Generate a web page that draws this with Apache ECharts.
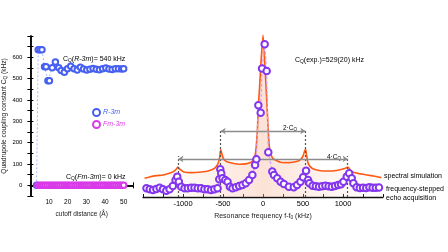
<!DOCTYPE html>
<html><head><meta charset="utf-8">
<script src="https://cdn.jsdelivr.net/npm/echarts@6/dist/echarts.min.js"></script>
<style>html,body{margin:0;padding:0;background:#fff}#c{width:448px;height:252px}</style>
</head><body><div id="c"></div>
<script>
// ---- Left panel: quadrupole coupling constant vs cutoff distance ----
const cutoffR = [3.3, 4.2, 5.2, 6.2, 7.6, 8.4, 9.4, 10.2, 11.7, 13.4, 15.2, 16.5, 18.2, 19.9, 21.6, 23.4, 25.1, 26.8, 28.5, 30.2, 31.9, 33.6, 35.3, 37.0, 38.7, 40.4, 42.1, 43.8, 45.5, 47.2, 48.9, 50.0];
const cqR = [0, 636, 636, 636, 556, 556, 490, 490, 551, 578, 551, 538, 530, 546, 558, 546, 541, 553, 545, 541, 544, 548, 544, 542, 546, 550, 545, 543, 546, 547, 545, 546];
const cutoffF = [4, 5, 6, 7, 8, 9, 10, 11, 12, 13, 14, 15, 16, 17, 18, 19, 20, 21, 22, 23, 24, 25, 26, 27, 28, 29, 30, 31, 32, 33, 34, 35, 36, 37, 38, 39, 40, 41, 42, 43, 44, 45, 46, 47, 48, 49, 50];
const cqF = [0, 0, 0, 0, 0, 0, 0, 0, 0, 0, 0, 0, 0, 0, 0, 0, 0, 0, 0, 0, 0, 0, 0, 0, 0, 0, 0, 0, 0, 0, 0, 0, 0, 0, 0, 0, 0, 0, 0, 0, 0, 0, 0, 0, 0, 0, 0];
const leftXTicks = [10, 20, 30, 40, 50];
const leftYTicks = [0, 100, 200, 300, 400, 500, 600];

// ---- Right panel: spectrum ----
const simFreq = [-1480,-1420,-1330,-1250,-1170,-1120,-1085,-1065,-1050,-1030,-990,-900,-800,-700,-620,-580,-555,-540,-528,-515,-500,-470,-420,-300,-200,-150,-120,-100,-85,-70,-58,-45,-29,-15,0,12,25,40,53,65,80,100,130,220,320,420,470,500,520,533,545,560,590,650,750,850,950,1020,1055,1075,1095,1130,1200,1300,1400,1480];
const simInt = [11.2,12.0,12.8,13.2,14.2,15.2,16.6,18.0,17.2,16.2,15.0,14.6,14.8,15.4,16.8,18.6,21.0,24.5,28.4,26.0,23.6,21.6,20.6,19.6,20.0,20.8,22.2,24.5,30,40,55,64,78,88,97,89,78,64,52,40,30,25.5,22.8,20.8,20.6,21.2,22.5,24.5,27.5,28.7,25,20.8,18.2,16.4,15.6,15.6,16.2,17,17.8,17.4,15.8,14.8,14.0,13.2,12.4,11.6];
const echoFreq = [-1457,-1416,-1375,-1333,-1292,-1251,-1209,-1168,-1127,-1093,-1072,-1052,-1022,-981,-940,-898,-857,-816,-774,-733,-692,-650,-609,-568,-547,-534,-522,-506,-472,-443,-414,-381,-339,-298,-257,-215,-174,-133,-99,-83,-58,-29,-12,21,46,66,116,137,178,220,261,323,385,426,468,501,538,563,580,620,660,700,740,780,820,860,900,940,975,1006,1047,1077,1109,1130,1170,1210,1250,1290,1330,1370,1410,1450];
const echoInt = [5.2,4.6,4.2,4.8,5.6,4.6,3.8,4.6,6.6,10.2,12.2,9.2,6.2,5.2,5.2,5.6,5.6,5.2,5.2,4.6,4.6,4.2,4.6,5.2,10.6,16.6,14.2,11.2,10.2,9.2,6.2,5.2,5.8,6.6,7.2,8.2,10.2,13.2,19.2,22.6,55,50.5,77,91.5,75.5,26.8,15.2,13.2,11.2,9.2,7.8,6.2,5.8,7.2,9.2,11.8,15.7,10.2,8.2,6.8,6.5,6.2,6.4,6.8,6.5,6.2,6.6,7.2,7.6,9.2,12.2,14.2,11.2,8.2,5.8,5.4,5.6,5.4,5.8,5.5,5.6,5.7];
const rightXTicks = [-1000, -500, 0, 500, 1000];
const singularities = [-1058, -529, 529, 1058];
const singTop = [24.5, 40.5, 40.5, 24.5];
const arrowSpans = [[-529, 529, 39.5], [-1058, 1058, 22.8]];

const FONT = 'Liberation Sans, Arial, sans-serif';
const BLUE = '#4760f0', MAG = '#d93ae8', ORANGE = '#ff5a14', PURPLE = '#8436ee';

const zip = (a, b) => a.map((v, i) => [v, b[i]]);
const chart = echarts.init(document.getElementById('c'), null, {renderer: 'canvas'});

const subRich = (size, color) => ({
  n: {fontSize: size, color: color, fontFamily: FONT},
  s: {fontSize: size * 0.7, color: color, fontFamily: FONT, padding: [size * 0.45, 0, 0, 0]},
  i: {fontSize: size, color: color, fontFamily: FONT, fontStyle: 'italic'}
});

const leftTickAxis = {
  type: 'value', gridIndex: 0, splitLine: {show: false},
  axisLine: {show: true, lineStyle: {color: '#000', width: 1.5}},
  axisTick: {show: true, inside: true, length: 3, lineStyle: {color: '#000', width: 1}},
  minorTick: {show: true, splitNumber: 2, length: 2, lineStyle: {color: '#000', width: 1}}
};

const markData = [];
singularities.forEach((f, i) => {
  markData.push([{coord: [f, 0], symbol: 'none', lineStyle: {color: '#555', type: [2, 2], width: 1.2}}, {coord: [f, singTop[i]], symbol: 'none'}]);
});
arrowSpans.forEach(s => {
  markData.push([{coord: [s[0], s[2]], symbol: 'arrow', lineStyle: {color: '#8c8c8c', type: 'solid', width: 1.3}}, {coord: [s[1], s[2]], symbol: 'arrow'}]);
});

const txt = (x, y, rich, text, align) => ({
  type: 'text', left: x, top: y, silent: true,
  style: {text: text, rich: rich, font: '7px ' + FONT, align: align || 'left', verticalAlign: 'middle'}
});

chart.setOption({
  animation: false,
  textStyle: {fontFamily: FONT},
  grid: [
    {left: 26, top: 36, width: 107, height: 160},
    {left: 143, top: 30, width: 240, height: 167}
  ],
  legend: {
    left: 92, top: 108, orient: 'vertical', padding: 0, itemWidth: 7, itemHeight: 7, itemGap: 3,
    icon: 'emptyCircle',
    textStyle: {fontSize: 7, fontStyle: 'italic', fontFamily: FONT, padding: [0, 0, 0, -2]},
    data: [{name: 'R-3m', textStyle: {color: BLUE}}, {name: 'Fm-3m', textStyle: {color: MAG}}]
  },
  xAxis: [
    Object.assign({}, leftTickAxis, {
      position: 'bottom', min: 0, max: 55, interval: 10,
      axisLabel: {fontSize: 6.5, color: '#000', margin: 3, fontFamily: FONT,
        formatter: v => leftXTicks.includes(v) ? String(v) : ''},
      name: 'cutoff distance (Å)', nameLocation: 'middle', nameGap: 10,
      nameTextStyle: {fontSize: 6.5, color: '#222', fontFamily: FONT}
    }),
    Object.assign({}, leftTickAxis, {
      position: 'top', min: 0, max: 55, interval: 10, axisLabel: {show: false}
    }),
    {
      type: 'value', gridIndex: 1, min: -1500, max: 1500, interval: 250, splitLine: {show: false},
      axisLine: {show: true, lineStyle: {color: '#111', width: 1.3}},
      axisTick: {show: true, inside: true, length: 3, lineStyle: {color: '#111', width: 1}},
      axisLabel: {fontSize: 7.5, color: '#000', margin: 3, fontFamily: FONT,
        formatter: v => rightXTicks.includes(v) ? String(v) : ''},
      name: '{n|Resonance frequency f-f}{s|0}{n| (kHz)}', nameLocation: 'middle', nameGap: 13,
      nameTextStyle: {rich: subRich(7, '#222')}
    }
  ],
  yAxis: [
    Object.assign({}, leftTickAxis, {
      position: 'left', min: -50, max: 700, interval: 50, minorTick: {show: false},
      axisLabel: {fontSize: 6, color: '#000', margin: 8, fontFamily: FONT,
        formatter: v => leftYTicks.includes(v) ? String(v) : ''},
      name: '{n|Quadrupole coupling constant C}{s|Q}{n| (kHz)}', nameLocation: 'middle', nameGap: 15, nameRotate: 90,
      nameTextStyle: {rich: subRich(6.6, '#222')}
    }),
    Object.assign({}, leftTickAxis, {
      position: 'right', min: -50, max: 700, interval: 50, minorTick: {show: false}, axisLabel: {show: false}
    }),
    {type: 'value', gridIndex: 1, min: 0, max: 100, show: false}
  ],
  series: [
    {
      name: 'R-3m', type: 'line', xAxisIndex: 0, yAxisIndex: 0, data: zip(cutoffR, cqR),
      symbol: 'emptyCircle', symbolSize: 5.5, z: 3,
      itemStyle: {color: BLUE, borderWidth: 1.2},
      lineStyle: {color: '#a9b6ff', type: [2, 2], width: 1}
    },
    {
      name: 'Fm-3m', type: 'line', xAxisIndex: 0, yAxisIndex: 0, data: zip(cutoffF, cqF),
      symbol: 'emptyCircle', symbolSize: 5.5, z: 4,
      itemStyle: {color: MAG, borderWidth: 1.2},
      lineStyle: {color: MAG, width: 1}
    },
    {
      name: 'annot', type: 'line', xAxisIndex: 2, yAxisIndex: 2, data: [], z: 1, silent: true,
      markLine: {silent: true, symbolSize: 5, label: {show: false}, animation: false, data: markData}
    },
    {
      name: 'spectral simulation', type: 'line', xAxisIndex: 2, yAxisIndex: 2, data: zip(simFreq, simInt),
      showSymbol: false, smooth: 0.1, z: 3,
      lineStyle: {color: ORANGE, width: 1.6},
      areaStyle: {origin: 'start', color: {type: 'linear', x: 0, y: 0, x2: 1, y2: 0, colorStops: [
        {offset: 0, color: 'rgba(252,215,195,0.05)'},
        {offset: 0.5, color: 'rgba(248,180,150,0.55)'},
        {offset: 1, color: 'rgba(252,215,195,0.05)'}
      ]}}
    },
    {
      name: 'frequency-stepped echo acquisition', type: 'line', xAxisIndex: 2, yAxisIndex: 2, data: zip(echoFreq, echoInt),
      symbol: 'emptyCircle', symbolSize: 6.5, z: 5,
      itemStyle: {color: PURPLE, borderWidth: 1.5},
      lineStyle: {color: '#c9a6ff', type: [3, 2], width: 1.3}
    }
  ],
  graphic: [
    txt(63, 56, subRich(7, '#5a6ff0'), '{n|C}{s|Q}{n|(}{i|R-3m}{n|)= 540 kHz}'),
    txt(66, 174, subRich(7, MAG), '{n|C}{s|Q}{n|(}{i|Fm-3m}{n|)= 0 kHz}'),
    txt(295, 57, subRich(7, '#222'), '{n|C}{s|Q}{n|(exp.)=529(20) kHz}'),
    txt(283, 125, subRich(6.5, '#444'), '{n|2·C}{s|Q}'),
    txt(327, 154, subRich(6.5, '#444'), '{n|4·C}{s|Q}'),
    txt(384, 173, subRich(7, '#222'), '{n|spectral simulation}'),
    txt(386, 186, subRich(7, '#222'), '{n|frequency-stepped}'),
    txt(386, 195, subRich(7, '#222'), '{n|echo acquisition}')
  ]
});
</script>
</body></html>
